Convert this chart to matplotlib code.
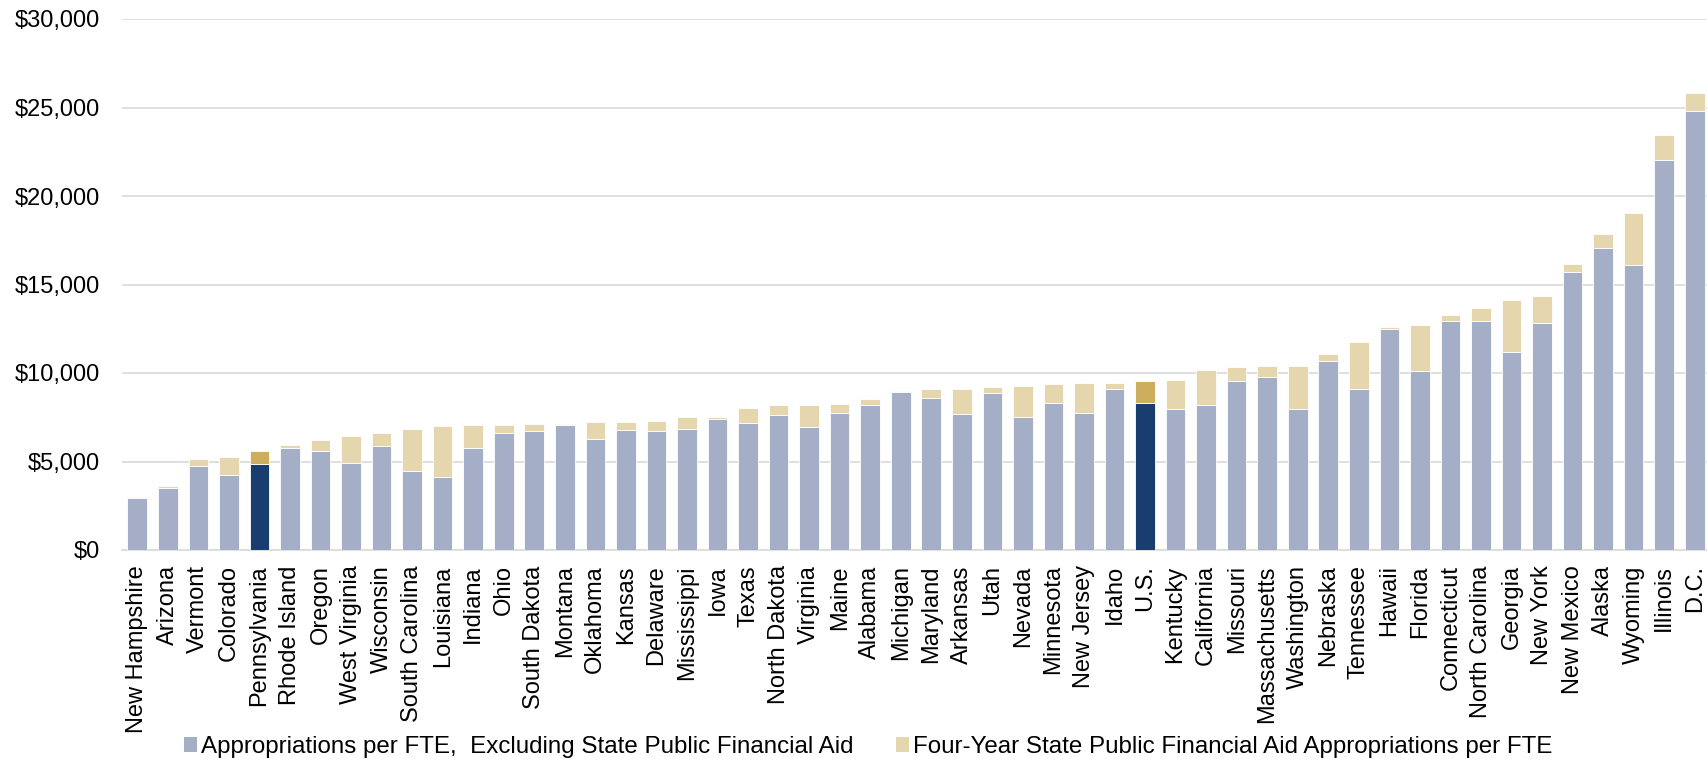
import matplotlib
matplotlib.use("Agg")
import matplotlib.pyplot as plt
from matplotlib.patches import Patch
from matplotlib.ticker import FuncFormatter
import numpy as np

plt.rcParams['font.family'] = ['Liberation Sans', 'DejaVu Sans']

states = ["New Hampshire", "Arizona", "Vermont", "Colorado", "Pennsylvania",
          "Rhode Island", "Oregon", "West Virginia", "Wisconsin", "South Carolina",
          "Louisiana", "Indiana", "Ohio", "South Dakota", "Montana", "Oklahoma",
          "Kansas", "Delaware", "Mississippi", "Iowa", "Texas", "North Dakota",
          "Virginia", "Maine", "Alabama", "Michigan", "Maryland", "Arkansas",
          "Utah", "Nevada", "Minnesota", "New Jersey", "Idaho", "U.S.",
          "Kentucky", "California", "Missouri", "Massachusetts", "Washington",
          "Nebraska", "Tennessee", "Hawaii", "Florida", "Connecticut",
          "North Carolina", "Georgia", "New York", "New Mexico", "Alaska",
          "Wyoming", "Illinois", "D.C."]

# appropriations per FTE, excluding state public financial aid
approp = [2960, 3490, 4740, 4240, 4880, 5780, 5580, 4900, 5870, 4450,
          4130, 5780, 6630, 6730, 7080, 6250, 6790, 6710, 6850, 7400,
          7200, 7600, 6960, 7760, 8200, 8910, 8610, 7660, 8870, 7520,
          8330, 7720, 9070, 8330, 7990, 8200, 9560, 9780, 7990, 10670,
          9110, 12500, 10140, 12940, 12940, 11190, 12820, 15700, 17040, 16110,
          22020, 24780]

# four-year state public financial aid appropriations per FTE
aid = [60, 120, 400, 1000, 700, 150, 620, 1530, 730, 2400,
       2860, 1290, 450, 380, 40, 970, 420, 560, 670, 120,
       820, 600, 1250, 500, 330, 60, 480, 1430, 320, 1740,
       1030, 1690, 380, 1230, 1630, 1960, 770, 600, 2400, 400,
       2620, 100, 2560, 360, 750, 2920, 1550, 480, 810, 2950,
       1410, 1050]

highlight = ["Pennsylvania", "U.S."]

c_base = "#a5aec7"
c_aid = "#e5d6ad"
c_base_hi = "#183d6e"
c_aid_hi = "#cdad5e"

base_colors = [c_base_hi if s in highlight else c_base for s in states]
aid_colors = [c_aid_hi if s in highlight else c_aid for s in states]

x = np.arange(len(states))

fig = plt.figure(figsize=(17.07, 7.59), dpi=100)
ax = fig.add_axes([122 / 1707, 1 - 550 / 759, (1710 - 122) / 1707, (550 - 19) / 759])

ax.bar(x, approp, width=0.64, color=base_colors, edgecolor="white", linewidth=0.6, zorder=3)
ax.bar(x, aid, width=0.64, bottom=approp, color=aid_colors, edgecolor="white", linewidth=0.6, zorder=3)

ax.set_xlim(-0.5, len(states) - 0.5)
ax.set_ylim(0, 30000)
ax.set_yticks(range(0, 30001, 5000))
ax.yaxis.set_major_formatter(FuncFormatter(lambda v, p: "${:,.0f}".format(v)))
ax.yaxis.grid(True, color="#d9d9d9", linewidth=1.2, zorder=0)
ax.set_axisbelow(True)

ax.set_xticks(x)
ax.set_xticklabels(states, rotation=90, fontsize=17)
ax.tick_params(axis="y", length=0, pad=16, labelsize=17)
ax.tick_params(axis="x", length=0, pad=11)

for s in ["top", "right", "left"]:
    ax.spines[s].set_visible(False)
ax.spines["bottom"].set_color("#d9d9d9")
ax.spines["bottom"].set_linewidth(1.2)

handles = [Patch(facecolor=c_base, label="Appropriations per FTE,  Excluding State Public Financial Aid"),
           Patch(facecolor=c_aid, label="Four-Year State Public Financial Aid Appropriations per FTE")]
fig.legend(handles=handles, loc="center left", bbox_to_anchor=(184 / 1707, 1 - 747 / 759),
           ncol=2, frameon=False, fontsize=17.4, handlelength=0.55, handleheight=0.55,
           handletextpad=0.15, columnspacing=1.75, borderaxespad=0, borderpad=0)

fig.savefig("out.png", dpi=100)
